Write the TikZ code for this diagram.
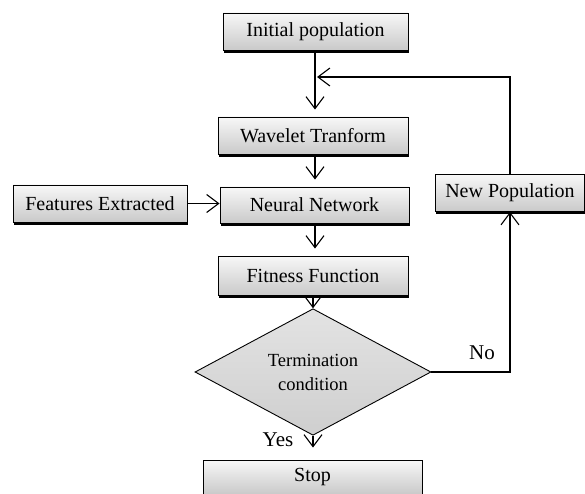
\documentclass[tikz,border=0pt]{standalone}
\usepackage{fontspec}
\setmainfont{Liberation Serif}
\usetikzlibrary{shapes.geometric,arrows.meta,shadows}
\begin{document}
\begin{tikzpicture}[x=1pt,y=-1pt,
  box/.style={draw, line width=0.9pt, top color=gray!6, bottom color=gray!42,
    general shadow={shadow xshift=0.8pt, shadow yshift=-2.8pt, fill=black},
    inner sep=0pt, font=\fontsize{20}{24}\selectfont},
  dec/.style={draw, diamond, line width=0.9pt, top color=gray!22, bottom color=gray!38,
    inner sep=0pt, align=center, font=\fontsize{18.5}{24}\selectfont},
  arr/.style={line width=1.1pt, -{Straight Barb[length=12pt,width=18pt]}},
  lab/.style={font=\fontsize{21}{24}\selectfont, inner sep=0pt}]
\useasboundingbox (0,0) rectangle (585,494);
\node[box, minimum width=185pt, minimum height=37pt] (init) at (315.5,31.5) {Initial population};
\node[box, minimum width=190pt, minimum height=37pt] (wave) at (313,135.5) {Wavelet Tranform};
\node[box, minimum width=189pt, minimum height=36pt] (nn) at (314.5,205) {Neural Network};
\node[box, minimum width=174pt, minimum height=37pt] (feat) at (100,203.5) {Features Extracted};
\node[box, minimum width=190pt, minimum height=39pt] (fit) at (313,275.5) {Fitness Function};
\node[box, minimum width=149pt, minimum height=37pt] (newp) at (510,193) {New Population};
\node[dec, minimum width=236pt, minimum height=90pt] (term) at (313,372) {Termination\\condition};
\node[box, minimum width=219pt, minimum height=34pt] (stop) at (312.5,477) {Stop};
\coordinate (fb) at (317,77);
\node[lab] (no) at (482,353) {No};
\node[lab] (yes) at (278,440) {Yes};
\draw[arr, shorten >=7pt] (init.south -| 315,0) -- (wave.north -| 315,0);
\draw[arr, shorten >=7pt] (wave.south -| 315,0) -- (nn.north -| 315,0);
\draw[arr, shorten >=7pt] (nn.south -| 315,0) -- (fit.north -| 315,0);
\draw[arr] (fit.south -| 313,0) -- (term.north);
\draw[arr, shorten >=12pt] (term.south) -- (stop.north -| term.south);
\draw[arr] (feat.east) -- (nn.west |- feat.east);
\draw[arr] (term.east) -| (newp.south);
\draw[arr] (newp.north) |- (fb);
\end{tikzpicture}
\end{document}
